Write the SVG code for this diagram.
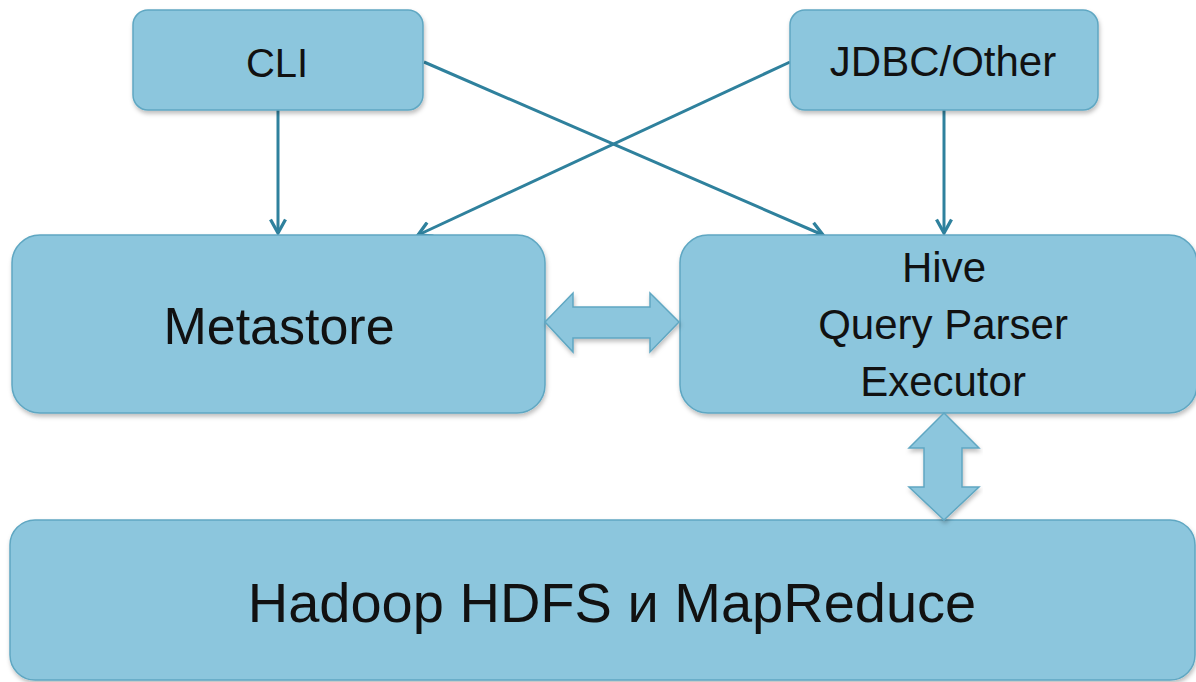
<svg xmlns="http://www.w3.org/2000/svg" width="1196" height="682" viewBox="0 0 1196 682">
<style>
.box{fill:#8cc6dd;stroke:#5fa7c2;stroke-width:1.5;filter:url(#sh)}
.lbl{font-family:"Liberation Sans",Arial,sans-serif;fill:#111;text-anchor:middle}
.con{fill:none;stroke:#2f819d;stroke-width:3;marker-end:url(#ah)}
.dbl{fill:#8cc6dd;stroke:#5fa7c2;stroke-width:1.5;filter:url(#sh)}
</style>
<defs>
<filter id="sh" x="-5%" y="-5%" width="110%" height="115%">
<feDropShadow dx="1" dy="3" stdDeviation="2" flood-color="#000" flood-opacity="0.25"/>
</filter>
<marker id="ah" viewBox="0 0 12 12" refX="10" refY="6" markerWidth="6" markerHeight="6" orient="auto" markerUnits="strokeWidth">
<path d="M1,1 L10,6 L1,11" fill="none" stroke="#2f819d" stroke-width="2.2"/>
</marker>
</defs>
<rect width="1196" height="682" fill="#fff"/>
<g id="connectors">
<line class="con" x1="278" y1="110" x2="278" y2="233"/>
<line class="con" x1="944" y1="110" x2="944" y2="233"/>
<line class="con" x1="424" y1="62" x2="823" y2="235"/>
<line class="con" x1="790" y1="62" x2="418" y2="235"/>
</g>
<g id="cli">
<rect class="box" x="133" y="10" width="290" height="100" rx="15"/>
<text class="lbl" x="277" y="77" font-size="40">CLI</text>
</g>
<g id="jdbc">
<rect class="box" x="790" y="10" width="308" height="100" rx="15"/>
<text class="lbl" x="943" y="76" font-size="42">JDBC/Other</text>
</g>
<g id="metastore">
<rect class="box" x="12" y="235" width="533" height="178" rx="28"/>
<text class="lbl" x="279" y="344" font-size="52">Metastore</text>
</g>
<g id="hive">
<rect class="box" x="680" y="235" width="517" height="178" rx="28"/>
<text class="lbl" x="944" y="282" font-size="42">Hive</text>
<text class="lbl" x="943" y="339" font-size="42">Query Parser</text>
<text class="lbl" x="943" y="396" font-size="42">Executor</text>
</g>
<g id="hadoop">
<rect class="box" x="10" y="520" width="1185" height="160" rx="25"/>
<text class="lbl" x="612" y="622" font-size="56">Hadoop HDFS и MapReduce</text>
</g>
<g id="arrow-meta-hive">
<path class="dbl" d="M545,322 L573,293 L573,307 L650,307 L650,293 L679,322 L650,352 L650,338 L573,338 L573,352 Z"/>
</g>
<g id="arrow-hive-hadoop">
<path class="dbl" d="M944,413 L979,448 L962,448 L962,487 L979,487 L944,520 L909,487 L924,487 L924,448 L909,448 Z"/>
</g>
</svg>
